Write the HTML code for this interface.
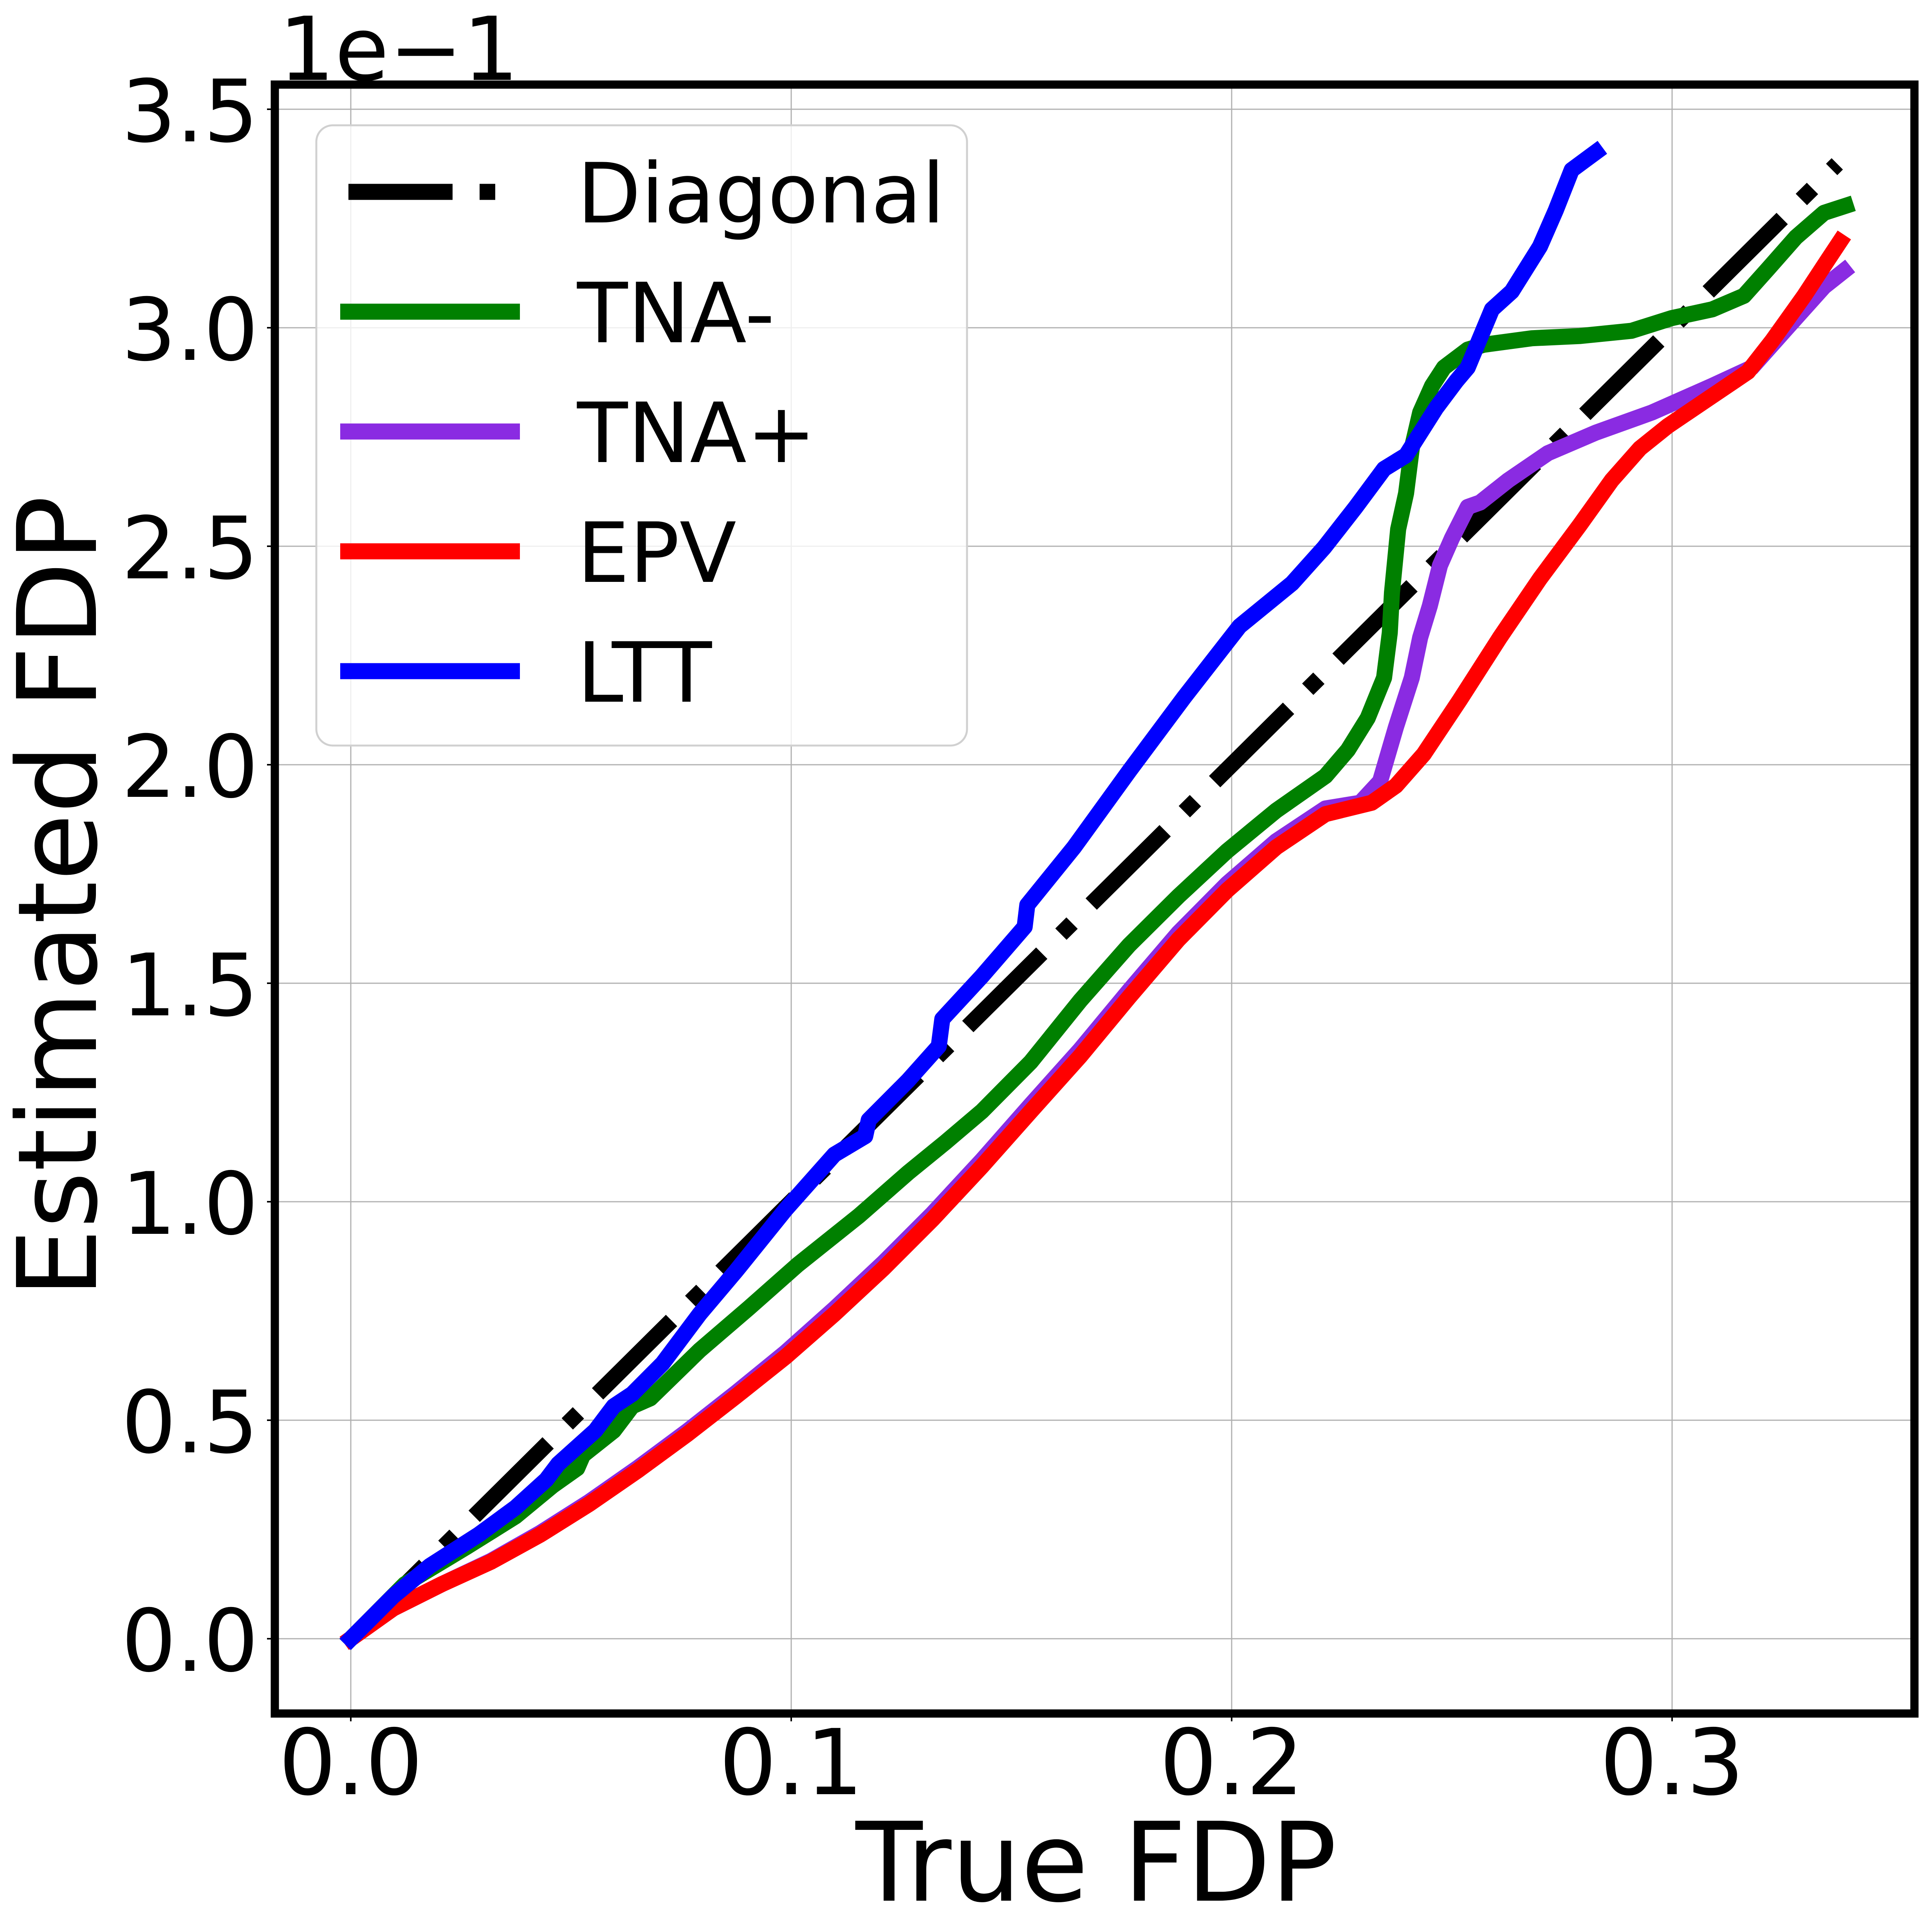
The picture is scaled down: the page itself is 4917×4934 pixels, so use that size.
<!DOCTYPE html>
<html><head><meta charset="utf-8"><style>
html,body{margin:0;padding:0;background:#fff}
svg{display:block;font-family:"DejaVu Sans","Liberation Sans",sans-serif}
</style></head><body>
<svg id="chart" width="4917" height="4934" viewBox="0 0 4917 4934" xmlns="http://www.w3.org/2000/svg">
<rect width="4917" height="4934" fill="#fff"/>
<g id="grid"></g>
<g id="series"></g>
<g id="legend"></g>
<rect x="702" y="216" width="4188" height="4160" fill="none" stroke="#000" stroke-width="21"/>
<g id="ticks"></g>
<text x="712" y="204" font-size="225">1e−1</text>
<text x="2800" y="4854" font-size="280" text-anchor="middle">True FDP</text>
<text transform="translate(245,2290) rotate(-90)" font-size="280" text-anchor="middle">Estimated FDP</text>
</svg>
<script>
const xTicks=[0.0,0.1,0.2,0.3];
const xTickLabels=["0.0","0.1","0.2","0.3"];
const yTicks=[0,0.05,0.10,0.15,0.20,0.25,0.30,0.35];
const yTickLabels=["0.0","0.5","1.0","1.5","2.0","2.5","3.0","3.5"];
const seriesNames=["Diagonal","TNA-","TNA+","EPV","LTT"];
const diagX=[0,0.3375];
const diagY=[0,0.3375];
const tnaMinusX=[0,.0123,.0263,.0374,.0458,.0514,.0527,.0597,.0639,.068,.0792,.0904,.1015,.1154,.1265,.135,.1433,.1544,.1656,.1767,.1879,.199,.2101,.2213,.2264,.2309,.2346,.2359,.2364,.2378,.2396,.2409,.2428,.2455,.2482,.2536,.2572,.2682,.279,.2908,.2999,.3091,.3163,.3218,.3281,.3345,.3394];
const tnaMinusY=[0,.0125,.021,.028,.035,.039,.042,.0476,.0532,.055,.066,.0757,.0856,.0968,.1066,.1136,.1207,.132,.146,.1587,.1699,.1803,.1895,.1974,.2034,.2107,.2199,.2302,.2394,.2539,.2621,.2724,.2806,.2867,.2909,.295,.2961,.2976,.2981,.2993,.3022,.3042,.3073,.3135,.3207,.3263,.3279];
const tnaPlusX=[0,.0096,.0207,.0318,.043,.0541,.0653,.0764,.0875,.0987,.1098,.1209,.1321,.1433,.1544,.1656,.1767,.1879,.199,.2101,.2213,.2292,.2337,.2373,.2409,.2428,.245,.2473,.25,.2536,.2564,.2628,.2718,.2827,.2954,.3091,.3181,.3272,.3345,.339];
const tnaPlusY=[0,.0069,.0125,.0178,.0242,.0313,.0392,.0475,.0563,.0655,.0755,.086,.0973,.1095,.1222,.1348,.1483,.1615,.1728,.1825,.19,.1913,.1962,.2086,.2199,.2291,.2364,.2456,.2518,.259,.26,.2651,.2713,.276,.2806,.2867,.2909,.3012,.3094,.313];
const epvX=[0,.0096,.0207,.0318,.043,.0541,.0653,.0764,.0875,.0987,.1098,.1209,.1321,.1433,.1544,.1656,.1767,.1879,.199,.2101,.2213,.2318,.2373,.2436,.2518,.2609,.27,.279,.2863,.2927,.299,.3081,.3172,.3227,.33,.3354,.3381];
const epvY=[0,.0069,.0125,.0176,.0238,.0308,.0386,.0468,.0555,.0645,.0743,.0847,.096,.1081,.1207,.1333,.1468,.16,.1713,.1811,.1887,.1913,.1952,.2024,.2148,.2291,.2426,.2548,.2651,.2724,.2775,.2837,.2899,.297,.3073,.3156,.3197];
const lttX=[0,.0096,.018,.029,.0374,.0444,.0471,.0555,.0597,.0639,.0708,.0792,.0875,.0987,.1098,.1168,.1176,.1265,.1335,.1343,.1433,.153,.1536,.1642,.1767,.1892,.2018,.2137,.221,.2282,.2346,.2396,.2464,.251,.2536,.2591,.2636,.27,.2736,.2772,.2827];
const lttY=[0,.0097,.0167,.0238,.03,.0364,.04,.0476,.0532,.056,.063,.0743,.0842,.0982,.1108,.115,.1187,.1277,.1356,.1418,.1516,.1629,.1679,.1811,.1985,.2154,.2317,.2415,.2497,.259,.2677,.2708,.2816,.2878,.2909,.3042,.3083,.3186,.3269,.3361,.3402];
const colors=["#000000","#008000","#8a2be2","#ff0000","#0000ff"];
const NS="http://www.w3.org/2000/svg";
function sx(v){return 896+v*11250;}
function sy(v){return 4185-v*11160;}
function mk(t,a,p){const e=document.createElementNS(NS,t);for(const k in a)e.setAttribute(k,a[k]);p.appendChild(e);return e;}
const grid=document.getElementById('grid'),ticks=document.getElementById('ticks'),ser=document.getElementById('series'),leg=document.getElementById('legend');
xTicks.forEach((v,i)=>{
  const g=mk('line',{x1:sx(v),x2:sx(v),y1:216,y2:4376,stroke:'#b0b0b0','stroke-width':3},grid);
  
  
  const t=mk('line',{x1:sx(v),x2:sx(v),y1:4376,y2:4396,stroke:'#000','stroke-width':4},ticks);
  
  
  const l=mk('text',{x:sx(v),y:4582,'font-size':232,'text-anchor':'middle'},ticks);
  l.textContent=xTickLabels[i];
  
  
});
yTicks.forEach((v,i)=>{
  const g=mk('line',{x1:702,x2:4890,y1:sy(v),y2:sy(v),stroke:'#b0b0b0','stroke-width':3},grid);
  
  
  const t=mk('line',{x1:682,x2:702,y1:sy(v),y2:sy(v),stroke:'#000','stroke-width':4},ticks);
  
  
  const l=mk('text',{x:660,y:sy(v)+82,'font-size':220,'text-anchor':'end'},ticks);
  l.textContent=yTickLabels[i];
  
  
});
const allX=[diagX,tnaMinusX,tnaPlusX,epvX,lttX],allY=[diagY,tnaMinusY,tnaPlusY,epvY,lttY];
const seriesKeys=['diagonal-line','tna-minus-line','tna-plus-line','epv-line','ltt-line'];
allX.forEach((xs,s)=>{
  const d=xs.map((x,i)=>(i?'L':'M')+sx(x).toFixed(1)+' '+sy(allY[s][i]).toFixed(1)).join(' ');
  const a={d:d,fill:'none',stroke:colors[s],'stroke-width':41,'stroke-linejoin':'round','stroke-linecap':'square'};
  if(s===0){a['stroke-dasharray']='266 69 40 69';a['stroke-linecap']='butt';}
  const p=mk('path',a,ser);
  
  
});
const box=mk('rect',{x:808,y:320,width:1662,height:1584,rx:42,fill:'#fff','fill-opacity':0.8,stroke:'#d0d0d0','stroke-width':5},leg);


seriesNames.forEach((n,i)=>{
  const y=490+i*306;
  const a=i===0?{x1:890,x2:1265,y1:y,y2:y,stroke:colors[i],'stroke-width':41,'stroke-dasharray':'266 69 40 69'}:{x1:869,x2:1328,y1:y,y2:y,stroke:colors[i],'stroke-width':41};
  const h=mk('line',a,leg);
  
  
  const t=mk('text',{x:1474,y:y+78,'font-size':212},leg);
  t.textContent=n;
  
  
});
</script>
</body></html>
